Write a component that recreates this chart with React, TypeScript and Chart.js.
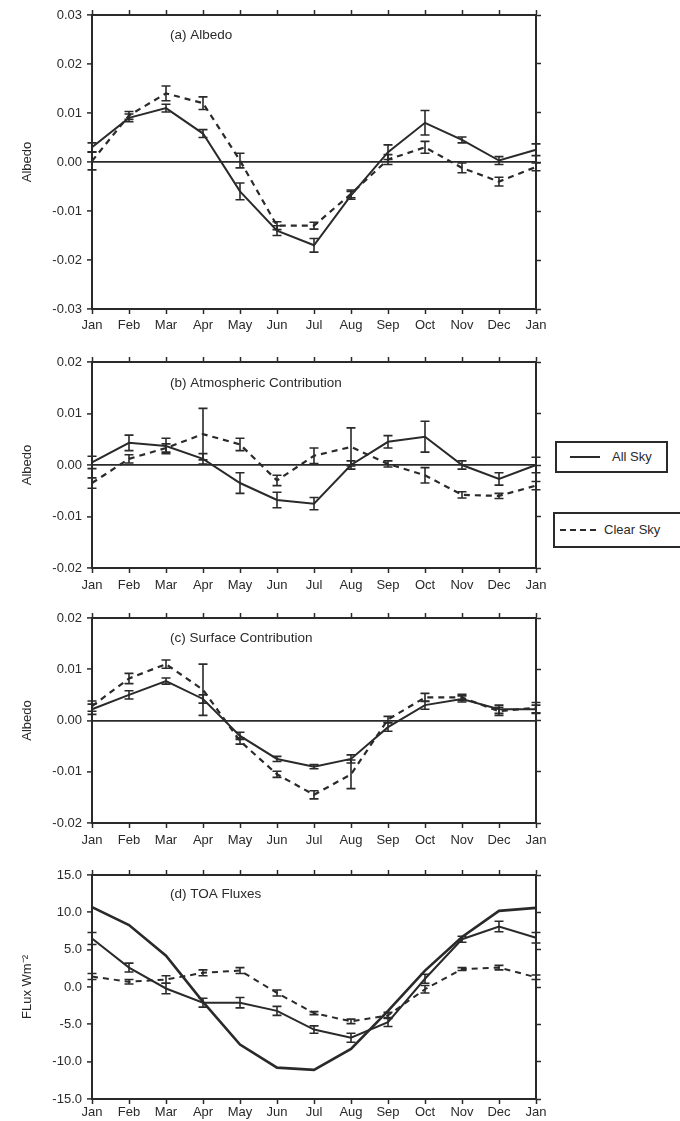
import React, { useEffect, useRef } from "react";
import { Chart, registerables } from "chart.js";

Chart.register(...registerables);

const INK = "#2a2a2a";
const FONT = "'Liberation Sans', Arial, Helvetica, sans-serif";

// ---------- data ----------
const months = ["Jan", "Feb", "Mar", "Apr", "May", "Jun", "Jul", "Aug", "Sep", "Oct", "Nov", "Dec", "Jan"];

// (a) Albedo
const albedoAllSky = [0.003, 0.009, 0.011, 0.0058, -0.006, -0.014, -0.017, -0.0068, 0.002, 0.008, 0.0045, 0.0003, 0.0025];
const albedoAllSkyErr = [0.0009, 0.0008, 0.0008, 0.0008, 0.0017, 0.001, 0.0014, 0.0008, 0.0015, 0.0025, 0.0006, 0.0008, 0.0012];
const albedoClearSky = [0.0002, 0.0095, 0.014, 0.012, 0.0003, -0.013, -0.013, -0.0065, 0.0005, 0.003, -0.0012, -0.004, -0.001];
const albedoClearSkyErr = [0.0018, 0.0008, 0.0015, 0.0013, 0.0015, 0.0008, 0.0007, 0.0008, 0.001, 0.0012, 0.001, 0.0009, 0.0008];

// (b) Atmospheric Contribution
const atmosAllSky = [0.0005, 0.0043, 0.0037, 0.0012, -0.0035, -0.0068, -0.0075, 0.0, 0.0045, 0.0055, 0.0, -0.0027, 0.0];
const atmosAllSkyErr = [0.0012, 0.0015, 0.0015, 0.001, 0.002, 0.0015, 0.0012, 0.0008, 0.0012, 0.003, 0.0008, 0.0012, 0.0015];
const atmosClearSky = [-0.0035, 0.0012, 0.0033, 0.006, 0.004, -0.003, 0.0018, 0.0035, 0.0002, -0.002, -0.0058, -0.006, -0.004];
const atmosClearSkyErr = [0.001, 0.0008, 0.0008, 0.005, 0.0012, 0.001, 0.0015, 0.0037, 0.0006, 0.0015, 0.0006, 0.0005, 0.0008];

// (c) Surface Contribution
const surfAllSky = [0.0022, 0.005, 0.0077, 0.0042, -0.003, -0.0075, -0.009, -0.0075, -0.0013, 0.003, 0.0042, 0.0022, 0.0022];
const surfAllSkyErr = [0.001, 0.0008, 0.0006, 0.0008, 0.0007, 0.0005, 0.0004, 0.0008, 0.0008, 0.0008, 0.0006, 0.0008, 0.0008];
const surfClearSky = [0.0028, 0.0082, 0.011, 0.006, -0.004, -0.0105, -0.0145, -0.0105, 0.0002, 0.0045, 0.0045, 0.0018, 0.0025];
const surfClearSkyErr = [0.001, 0.001, 0.0008, 0.005, 0.0006, 0.0006, 0.0008, 0.0028, 0.0006, 0.0008, 0.0006, 0.0008, 0.001];

// (d) TOA Fluxes
const toaSeasonal = [10.7, 8.3, 4.2, -2.0, -7.7, -10.8, -11.1, -8.3, -3.2, 2.2, 6.7, 10.2, 10.6];
const toaAllSky = [6.5, 2.6, -0.2, -2.1, -2.1, -3.2, -5.7, -6.8, -4.7, 1.1, 6.4, 8.1, 6.6];
const toaAllSkyErr = [0.8, 0.6, 0.7, 0.6, 0.7, 0.6, 0.5, 0.6, 0.6, 0.6, 0.4, 0.7, 0.7];
const toaClearSky = [1.4, 0.7, 1.0, 1.9, 2.2, -0.8, -3.5, -4.6, -3.8, -0.3, 2.4, 2.6, 1.3];
const toaClearSkyErr = [0.4, 0.3, 0.5, 0.4, 0.4, 0.4, 0.2, 0.3, 0.4, 0.5, 0.2, 0.3, 0.3];

const yTicksAlbedoA = { min: -0.03, max: 0.03, step: 0.01, decimals: 2 };
const yTicksAlbedoBC = { min: -0.02, max: 0.02, step: 0.01, decimals: 2 };
const yTicksFlux = { min: -15, max: 15, step: 5, decimals: 1 };

// ---------- plugins ----------
const errorBarPlugin = {
  id: "errorBars",
  afterDatasetsDraw(chart: any) {
    const ctx = chart.ctx;
    const ys = chart.scales.y;
    chart.data.datasets.forEach((ds: any, i: number) => {
      if (!ds.errors) return;
      const meta = chart.getDatasetMeta(i);
      ctx.save();
      ctx.strokeStyle = INK;
      ctx.lineWidth = 1.6;
      ctx.setLineDash([]);
      meta.data.forEach((pt: any, j: number) => {
        const v = ds.data[j];
        const e = ds.errors[j];
        const x = pt.x;
        const yt = ys.getPixelForValue(v + e);
        const yb = ys.getPixelForValue(v - e);
        ctx.beginPath();
        ctx.moveTo(x, yt);
        ctx.lineTo(x, yb);
        ctx.moveTo(x - 4.5, yt);
        ctx.lineTo(x + 4.5, yt);
        ctx.moveTo(x - 4.5, yb);
        ctx.lineTo(x + 4.5, yb);
        ctx.stroke();
      });
      ctx.restore();
    });
  },
};

const panelTitlePlugin = {
  id: "panelTitle",
  afterDraw(chart: any, _args: any, opts: any) {
    const { ctx, chartArea } = chart;
    ctx.save();
    ctx.font = `13.5px ${FONT}`;
    ctx.fillStyle = INK;
    ctx.textAlign = "left";
    ctx.textBaseline = "middle";
    ctx.fillText(opts.text, chartArea.left + 78, chartArea.top + opts.dy);
    ctx.restore();
  },
};

type Series = { label: string; data: number[]; err?: number[]; dashed: boolean; width: number };

type PanelSpec = {
  title: string;
  yTitle: string;
  yt: { min: number; max: number; step: number; decimals: number };
  zeroLine: boolean;
  top: number;
  height: number;
  topAxisH: number;
  bottomAxisH: number;
  xPad: number;
  titleDy: number;
  series: Series[];
};

const CANVAS_W = 560;
const LEFT_W = 92;
const RIGHT_W = 24;

function Panel({ spec }: { spec: PanelSpec }) {
  const ref = useRef<HTMLCanvasElement | null>(null);
  useEffect(() => {
    if (!ref.current) return;
    const tickFont = { family: FONT, size: 13 };
    const gridBase = {
      drawTicks: true,
      tickLength: 5,
      tickColor: INK,
      tickWidth: 1.5,
    };
    const border = { display: true, color: INK, width: 2 };
    const chart = new Chart(ref.current, {
      type: "line",
      data: {
        labels: months,
        datasets: spec.series.map((s) => ({
          label: s.label,
          data: s.data,
          errors: s.err,
          borderColor: INK,
          backgroundColor: INK,
          borderWidth: s.width,
          borderDash: s.dashed ? [6, 5] : [],
          pointRadius: 0,
          tension: 0,
          fill: false,
        })) as any,
      },
      options: {
        responsive: false,
        animation: false,
        events: [],
        layout: { padding: 0 },
        plugins: {
          legend: { display: false },
          tooltip: { enabled: false },
          panelTitle: { text: spec.title, dy: spec.titleDy },
        } as any,
        scales: {
          x: {
            type: "category",
            position: "bottom",
            grid: { ...gridBase, display: true, drawOnChartArea: false, color: INK },
            border,
            ticks: { color: INK, font: tickFont, padding: spec.xPad, autoSkip: false, maxRotation: 0 },
            afterFit: (s: any) => {
              s.height = spec.bottomAxisH;
            },
          },
          x2: {
            type: "category",
            position: "top",
            grid: { ...gridBase, display: true, drawOnChartArea: false, color: INK },
            border,
            ticks: { display: false },
            afterFit: (s: any) => {
              s.height = spec.topAxisH;
            },
          },
          y: {
            type: "linear",
            position: "left",
            min: spec.yt.min,
            max: spec.yt.max,
            grid: {
              ...gridBase,
              display: true,
              drawOnChartArea: spec.zeroLine,
              lineWidth: 1.8,
              color: (c: any) =>
                spec.zeroLine && c.tick && Math.abs(c.tick.value) < 1e-9 ? INK : "rgba(0,0,0,0)",
            },
            border,
            ticks: {
              color: INK,
              font: tickFont,
              padding: 5,
              stepSize: spec.yt.step,
              callback: (v: any) => Number(v).toFixed(spec.yt.decimals),
            },
            title: {
              display: true,
              text: spec.yTitle,
              color: INK,
              font: { family: FONT, size: 13 },
              padding: { top: 20, bottom: 0 },
            },
            afterFit: (s: any) => {
              s.width = LEFT_W;
            },
          },
          y2: {
            type: "linear",
            position: "right",
            min: spec.yt.min,
            max: spec.yt.max,
            grid: { ...gridBase, display: true, drawOnChartArea: false, color: INK },
            border,
            ticks: { display: false, stepSize: spec.yt.step },
            afterFit: (s: any) => {
              s.width = RIGHT_W;
            },
          },
        } as any,
      },
      plugins: [errorBarPlugin, panelTitlePlugin],
    });
    return () => chart.destroy();
  }, [spec]);

  return (
    <canvas
      ref={ref}
      width={CANVAS_W}
      height={spec.height}
      style={{ position: "absolute", left: 0, top: spec.top, width: CANVAS_W, height: spec.height }}
    />
  );
}

const panels: PanelSpec[] = [
  {
    title: "(a) Albedo",
    yTitle: "Albedo",
    yt: yTicksAlbedoA,
    zeroLine: true,
    top: 0,
    height: 340,
    topAxisH: 15,
    bottomAxisH: 31,
    xPad: 4,
    titleDy: 20,
    series: [
      { label: "All Sky", data: albedoAllSky, err: albedoAllSkyErr, dashed: false, width: 2 },
      { label: "Clear Sky", data: albedoClearSky, err: albedoClearSkyErr, dashed: true, width: 2.2 },
    ],
  },
  {
    title: "(b) Atmospheric Contribution",
    yTitle: "Albedo",
    yt: yTicksAlbedoBC,
    zeroLine: true,
    top: 340,
    height: 255,
    topAxisH: 22,
    bottomAxisH: 27,
    xPad: 5,
    titleDy: 21,
    series: [
      { label: "All Sky", data: atmosAllSky, err: atmosAllSkyErr, dashed: false, width: 2 },
      { label: "Clear Sky", data: atmosClearSky, err: atmosClearSkyErr, dashed: true, width: 2.2 },
    ],
  },
  {
    title: "(c) Surface Contribution",
    yTitle: "Albedo",
    yt: yTicksAlbedoBC,
    zeroLine: true,
    top: 595,
    height: 255,
    topAxisH: 23,
    bottomAxisH: 27,
    xPad: 5,
    titleDy: 20,
    series: [
      { label: "All Sky", data: surfAllSky, err: surfAllSkyErr, dashed: false, width: 2 },
      { label: "Clear Sky", data: surfClearSky, err: surfClearSkyErr, dashed: true, width: 2.2 },
    ],
  },
  {
    title: "(d) TOA Fluxes",
    yTitle: "FLux Wm\u207B\u00B2",
    yt: yTicksFlux,
    zeroLine: false,
    top: 850,
    height: 271,
    topAxisH: 25,
    bottomAxisH: 22,
    xPad: 1,
    titleDy: 19,
    series: [
      { label: "Seasonal", data: toaSeasonal, dashed: false, width: 2.6 },
      { label: "All Sky", data: toaAllSky, err: toaAllSkyErr, dashed: false, width: 2 },
      { label: "Clear Sky", data: toaClearSky, err: toaClearSkyErr, dashed: true, width: 2 },
    ],
  },
];

function LegendBox({
  left,
  top,
  width,
  height,
  dashed,
  lineLeft,
  lineW,
  textLeft,
  text,
}: {
  left: number;
  top: number;
  width: number;
  height: number;
  dashed: boolean;
  lineLeft: number;
  lineW: number;
  textLeft: number;
  text: string;
}) {
  return (
    <div
      style={{
        position: "absolute",
        left,
        top,
        width,
        height,
        border: `2px solid ${INK}`,
        boxSizing: "border-box",
        background: "#fff",
      }}
    >
      <svg
        width={lineW}
        height={4}
        style={{ position: "absolute", left: lineLeft, top: height / 2 - 4, display: "block" }}
      >
        <line
          x1={0}
          y1={2}
          x2={lineW}
          y2={2}
          stroke={INK}
          strokeWidth={2}
          strokeDasharray={dashed ? "6 4" : undefined}
        />
      </svg>
      <span
        style={{
          position: "absolute",
          left: textLeft,
          top: 0,
          lineHeight: `${height - 4}px`,
          fontFamily: FONT,
          fontSize: 13,
          color: INK,
          whiteSpace: "nowrap",
        }}
      >
        {text}
      </span>
    </div>
  );
}

export default function App() {
  return (
    <div
      style={{
        position: "absolute",
        left: 0,
        top: 0,
        width: 680,
        height: 1121,
        overflow: "hidden",
        background: "#fff",
      }}
    >
      {panels.map((p, i) => (
        <Panel key={i} spec={p} />
      ))}
      <LegendBox left={555} top={441} width={113} height={32} dashed={false} lineLeft={13} lineW={30} textLeft={55} text="All Sky" />
      <LegendBox left={553} top={512} width={140} height={36} dashed={true} lineLeft={5} lineW={36} textLeft={49} text="Clear Sky" />
    </div>
  );
}
